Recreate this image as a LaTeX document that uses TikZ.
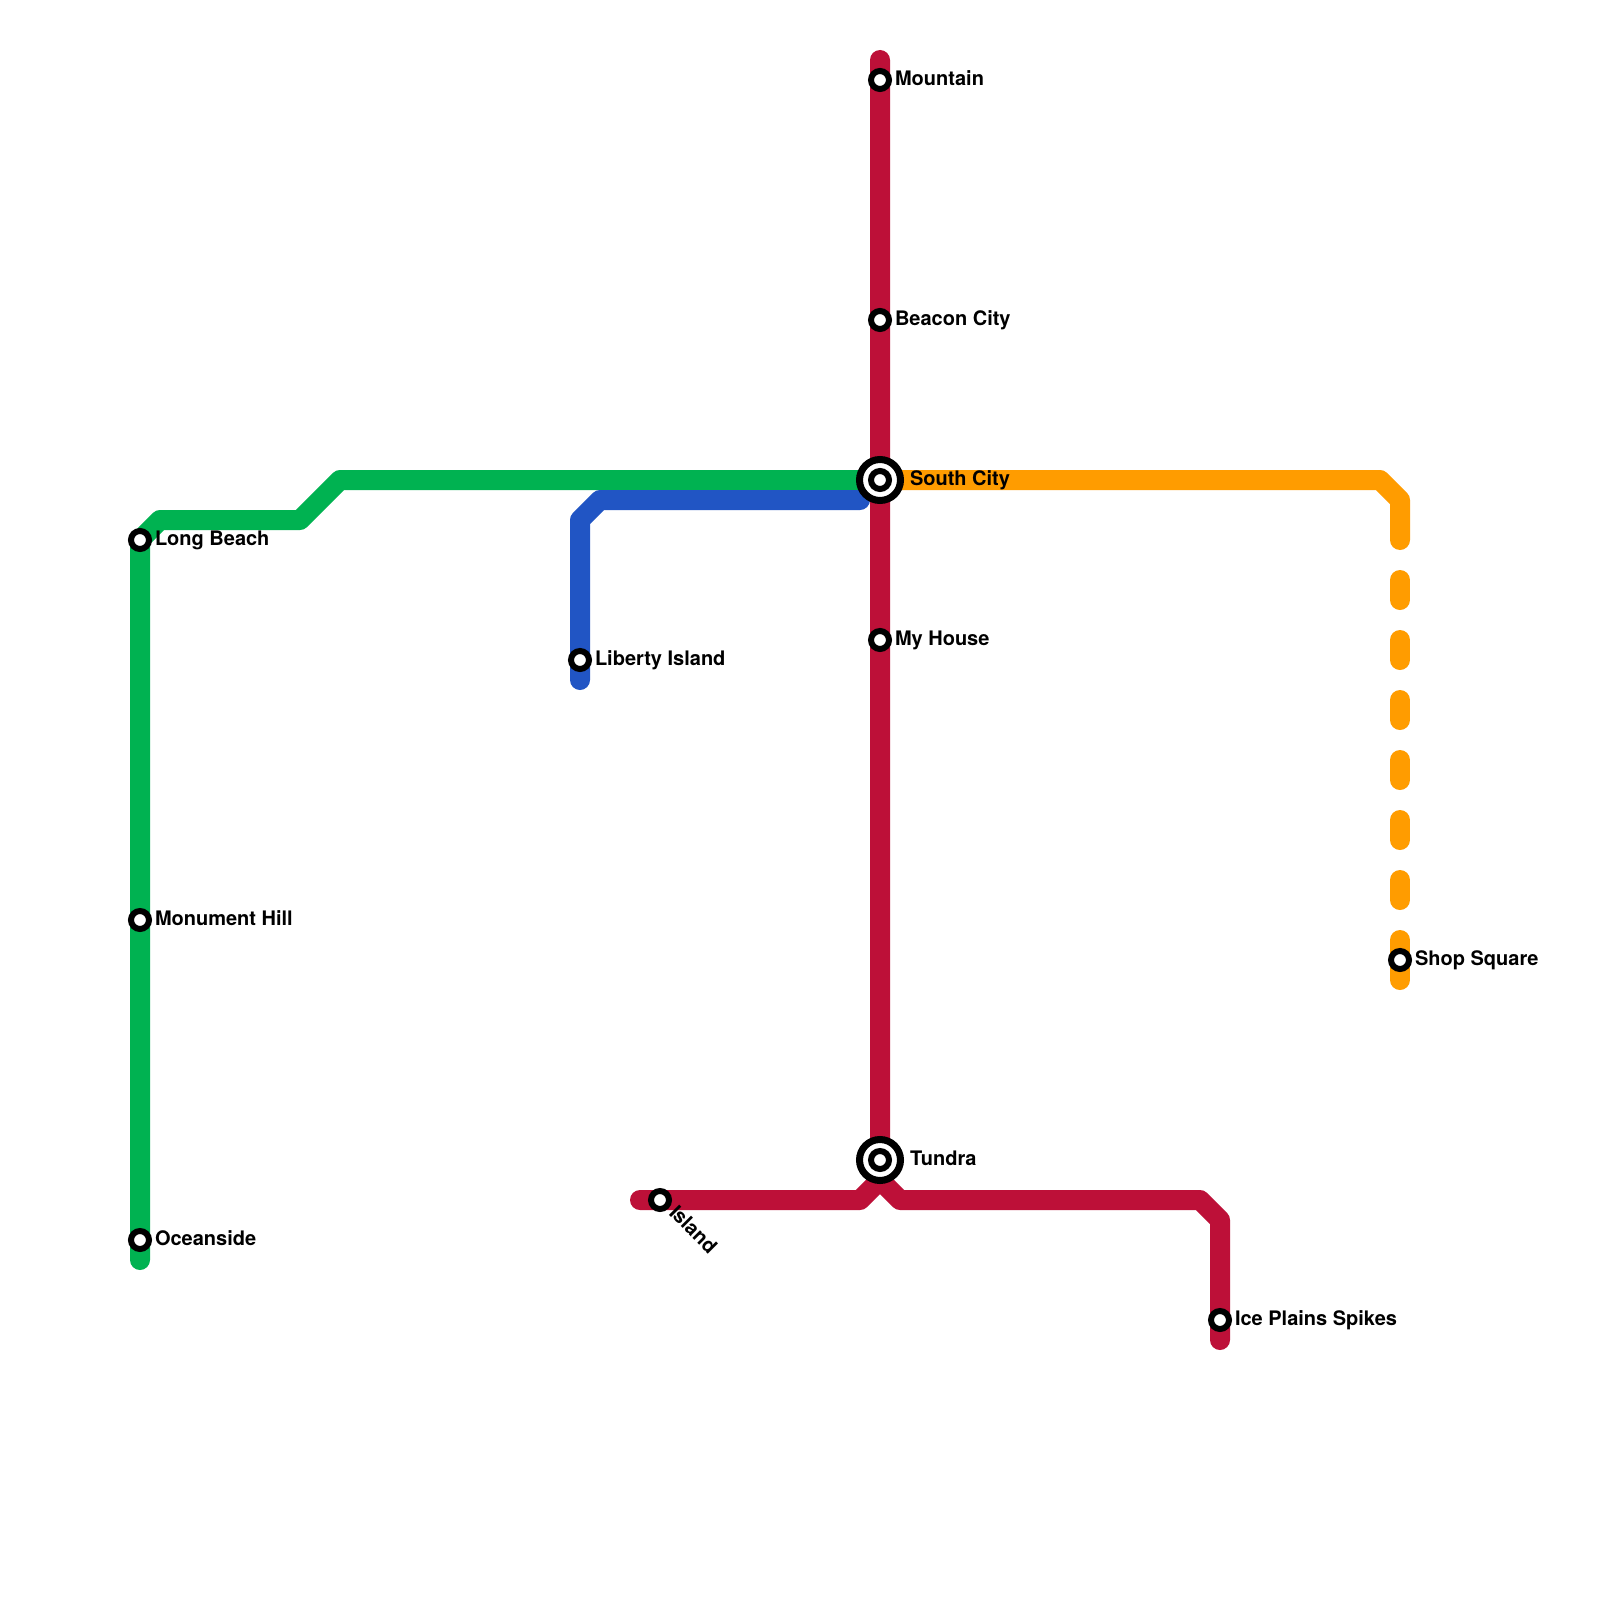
\documentclass[tikz,border=0pt]{standalone}
\usepackage{fontspec}
\setmainfont{TeX Gyre Heros}
\usetikzlibrary{backgrounds,calc}
\definecolor{redline}{HTML}{BD1038}
\definecolor{greenline}{HTML}{00B251}
\definecolor{blueline}{HTML}{2155C4}
\definecolor{orangeline}{HTML}{FF9C00}
\tikzset{
  metro/.style={line width=20pt,line cap=round,line join=round},
  stn/.style={circle,draw=black,fill=white,line width=6pt,minimum size=18pt,inner sep=0pt,outer sep=0pt},
  bigstn/.style={circle,draw=black,fill=white,line width=7pt,minimum size=41pt,inner sep=0pt,outer sep=0pt},
  lbl/.style={anchor=base west,inner sep=0pt,outer sep=0pt,text=black,font=\fontsize{20}{24}\selectfont\bfseries}
}
\begin{document}
\begin{tikzpicture}[x=1pt,y=-1pt]
\useasboundingbox (0,0) rectangle (1600,1600);
% stations
\node[stn] (mountain) at (880,80) {};
\node[stn] (beacon) at (880,320) {};
\node[bigstn] (south) at (880,480) {};
\node[stn] (southin) at (880,480) {};
\node[stn] (myhouse) at (880,640) {};
\node[bigstn] (tundra) at (880,1160) {};
\node[stn] (tundrain) at (880,1160) {};
\node[stn] (island) at (660,1200) {};
\node[stn] (ice) at (1220,1320) {};
\node[stn] (shop) at (1400,960) {};
\node[stn] (longbeach) at (140,540) {};
\node[stn] (monument) at (140,920) {};
\node[stn] (oceanside) at (140,1240) {};
\node[stn] (liberty) at (580,660) {};
% free ends
\coordinate (redtop) at (880,60);
\coordinate (redfork) at (880,1180);
\coordinate (redwest) at (640,1200);
\coordinate (redeast) at (1220,1340);
\coordinate (greenend) at (140,1260);
\coordinate (blueend) at (860,500);
\coordinate (bluefoot) at (580,680);
\begin{scope}[on background layer]
\fill[white] (0,0) rectangle (1600,1600);
\draw[metro,greenline] (greenend) -- (oceanside.center) -- (monument.center) -- (longbeach.center) -- (160,520) -- (300,520) -- (340,480) -- (south.center);
\draw[metro,orangeline] (south.center) -- (1380,480) -- (1400,500) -- (1400,540);
\foreach \yy in {580,640,700,760,820,880}
  \draw[metro,orangeline] (1400,\yy) -- (1400,\yy+20);
\draw[metro,orangeline] (1400,940) -- (shop.center) -- (1400,980);
\draw[metro,redline] (redtop) -- (mountain.center) -- (beacon.center) -- (south.center) -- (myhouse.center) -- (tundra.center) -- (redfork) -- (860,1200) -- (island.center) -- (redwest);
\draw[metro,redline] (redfork) -- (900,1200) -- (1200,1200) -- (1220,1220) -- (ice.center) -- (redeast);
\draw[metro,blueline] (blueend) -- (600,500) -- (580,520) -- (liberty.center) -- (bluefoot);
\end{scope}
% labels
\node[lbl] (lmountain) at (895,85.5) {Mountain};
\node[lbl] (lbeacon) at (895,325.5) {Beacon City};
\node[lbl] (lsouth) at (910,485.5) {South City};
\node[lbl] (lmyhouse) at (895,645.5) {My House};
\node[lbl] (ltundra) at (910,1165.5) {Tundra};
\node[lbl,rotate=-45] (lisland) at (668,1214) {Island};
\node[lbl] (lice) at (1235,1325.5) {Ice Plains Spikes};
\node[lbl] (lshop) at (1415,965.5) {Shop Square};
\node[lbl] (llong) at (155,545.5) {Long Beach};
\node[lbl] (lmon) at (155,925.5) {Monument Hill};
\node[lbl] (locean) at (155,1245.5) {Oceanside};
\node[lbl] (lliberty) at (595,665.5) {Liberty Island};
\end{tikzpicture}
\end{document}
